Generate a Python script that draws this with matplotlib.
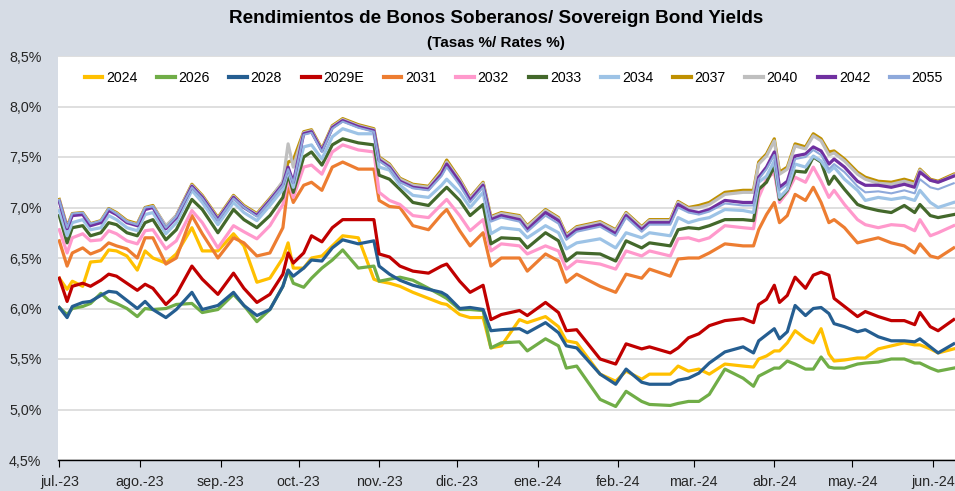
import pandas as pd
import matplotlib
matplotlib.use("Agg")
import matplotlib.pyplot as plt
from matplotlib.ticker import FuncFormatter

dates = [
    "2023-07-01", "2023-07-04", "2023-07-06", "2023-07-10", "2023-07-13", "2023-07-17", "2023-07-20",
    "2023-07-23", "2023-07-27", "2023-07-31", "2023-08-03", "2023-08-06", "2023-08-11", "2023-08-15",
    "2023-08-21", "2023-08-25", "2023-08-31", "2023-09-06", "2023-09-10", "2023-09-15", "2023-09-20",
    "2023-09-25", "2023-09-27", "2023-09-29", "2023-10-03", "2023-10-06", "2023-10-10", "2023-10-14",
    "2023-10-18", "2023-10-24", "2023-10-30",
    "2023-11-01", "2023-11-05", "2023-11-09", "2023-11-14", "2023-11-20", "2023-11-25", "2023-11-27",
    "2023-12-02", "2023-12-06", "2023-12-11", "2023-12-14", "2023-12-18", "2023-12-25", "2023-12-28",
    "2024-01-04", "2024-01-09", "2024-01-12", "2024-01-16", "2024-01-25", "2024-01-31", "2024-02-04",
    "2024-02-10", "2024-02-13", "2024-02-21", "2024-02-24", "2024-02-28",
    "2024-03-03", "2024-03-07", "2024-03-13", "2024-03-20", "2024-03-24", "2024-03-26", "2024-03-29",
    "2024-04-01", "2024-04-03", "2024-04-06", "2024-04-09", "2024-04-13", "2024-04-16", "2024-04-19",
    "2024-04-22", "2024-04-24", "2024-04-28", "2024-05-03", "2024-05-06", "2024-05-11", "2024-05-16",
    "2024-05-21", "2024-05-25", "2024-05-27", "2024-05-31", "2024-06-03", "2024-06-09",
]

y2024 = [6.30, 6.19, 6.27, 6.22, 6.46, 6.47, 6.58, 6.57, 6.52, 6.38, 6.57, 6.50, 6.45, 6.54, 6.80, 6.57,
         6.57, 6.74, 6.62, 6.26, 6.30, 6.50, 6.65, 6.40, 6.40, 6.50, 6.52, 6.62, 6.72, 6.70, 6.29,
         6.27, 6.25, 6.22, 6.16, 6.10, 6.05, 6.04, 5.94, 5.91, 5.91, 5.61, 5.63, 5.89, 5.86, 5.92, 5.82,
         5.68, 5.66, 5.35, 5.28, 5.38, 5.30, 5.35, 5.35, 5.43, 5.38,
         5.40, 5.35, 5.45, 5.43, 5.42, 5.50, 5.53, 5.58, 5.58, 5.66, 5.78, 5.70, 5.66, 5.80, 5.55, 5.48,
         5.49, 5.51, 5.51, 5.60, 5.63, 5.66, 5.64, 5.64, 5.60, 5.56, 5.60]
y2026 = [6.01, 5.94, 6.00, 6.02, 6.05, 6.15, 6.08, 6.05, 6.00, 5.92, 6.00, 5.99, 6.00, 6.04, 6.05, 5.96,
         5.99, 6.14, 6.03, 5.87, 5.99, 6.22, 6.38, 6.25, 6.21, 6.30, 6.40, 6.48, 6.58, 6.40, 6.42,
         6.27, 6.29, 6.31, 6.28, 6.20, 6.13, 6.10, 5.99, 5.99, 5.98, 5.61, 5.66, 5.67, 5.58, 5.70, 5.63,
         5.41, 5.43, 5.10, 5.03, 5.18, 5.08, 5.05, 5.04, 5.06, 5.08,
         5.08, 5.15, 5.40, 5.31, 5.23, 5.33, 5.37, 5.41, 5.41, 5.48, 5.45, 5.40, 5.40, 5.52, 5.42, 5.41,
         5.41, 5.45, 5.46, 5.47, 5.50, 5.50, 5.46, 5.46, 5.41, 5.38, 5.41]
y2028 = [6.01, 5.91, 6.02, 6.06, 6.07, 6.13, 6.17, 6.16, 6.08, 6.00, 6.07, 5.99, 5.91, 5.99, 6.16, 5.99,
         6.03, 6.16, 6.03, 5.93, 5.99, 6.22, 6.38, 6.32, 6.40, 6.48, 6.47, 6.60, 6.68, 6.64, 6.67,
         6.42, 6.34, 6.28, 6.23, 6.19, 6.16, 6.13, 6.00, 6.01, 5.99, 5.78, 5.79, 5.80, 5.76, 5.86, 5.76,
         5.63, 5.61, 5.35, 5.25, 5.40, 5.27, 5.25, 5.25, 5.29, 5.31,
         5.36, 5.46, 5.57, 5.62, 5.56, 5.68, 5.74, 5.80, 5.70, 5.77, 6.03, 5.93, 6.00, 6.01, 5.95, 5.85,
         5.82, 5.77, 5.79, 5.72, 5.68, 5.68, 5.67, 5.70, 5.62, 5.56, 5.65]
y2029e = [6.30, 6.07, 6.22, 6.25, 6.22, 6.28, 6.34, 6.32, 6.25, 6.18, 6.24, 6.20, 6.04, 6.14, 6.42, 6.29,
          6.14, 6.35, 6.20, 6.06, 6.14, 6.34, 6.55, 6.45, 6.55, 6.72, 6.66, 6.80, 6.88, 6.88, 6.88,
          6.54, 6.51, 6.42, 6.37, 6.35, 6.42, 6.44, 6.27, 6.16, 6.23, 5.89, 5.94, 5.98, 5.93, 6.06, 5.96,
          5.78, 5.79, 5.50, 5.45, 5.65, 5.60, 5.62, 5.56, 5.61, 5.71,
          5.75, 5.83, 5.88, 5.90, 5.86, 6.04, 6.09, 6.23, 6.06, 6.13, 6.31, 6.20, 6.33, 6.36, 6.33, 6.10,
          6.02, 5.92, 5.97, 5.92, 5.88, 5.88, 5.84, 5.96, 5.82, 5.78, 5.89]
y2031 = [6.67, 6.42, 6.55, 6.60, 6.54, 6.58, 6.65, 6.62, 6.59, 6.50, 6.70, 6.70, 6.44, 6.50, 6.92, 6.74,
         6.50, 6.70, 6.65, 6.52, 6.55, 6.80, 7.22, 7.05, 7.22, 7.25, 7.17, 7.40, 7.45, 7.38, 7.38,
         7.07, 7.01, 7.00, 6.82, 6.78, 6.93, 6.98, 6.77, 6.62, 6.75, 6.42, 6.50, 6.50, 6.37, 6.54, 6.47,
         6.26, 6.34, 6.22, 6.16, 6.34, 6.30, 6.39, 6.32, 6.49, 6.50,
         6.50, 6.55, 6.64, 6.62, 6.62, 6.78, 6.93, 7.05, 6.85, 6.92, 7.13, 7.07, 7.20, 7.05, 6.85, 6.88,
         6.80, 6.65, 6.67, 6.70, 6.65, 6.62, 6.55, 6.64, 6.52, 6.50, 6.60]
y2032 = [6.78, 6.55, 6.70, 6.74, 6.67, 6.68, 6.77, 6.74, 6.67, 6.64, 6.77, 6.78, 6.59, 6.67, 6.97, 6.85,
         6.60, 6.82, 6.76, 6.69, 6.82, 7.03, 7.28, 7.10, 7.40, 7.42, 7.33, 7.55, 7.62, 7.57, 7.55,
         7.15, 7.07, 7.03, 6.92, 6.90, 7.03, 7.08, 6.92, 6.77, 6.88, 6.57, 6.64, 6.62, 6.54, 6.62, 6.57,
         6.39, 6.47, 6.44, 6.39, 6.57, 6.52, 6.57, 6.52, 6.69, 6.70,
         6.67, 6.70, 6.82, 6.80, 6.79, 7.10, 7.28, 7.35, 7.05, 7.15, 7.30, 7.25, 7.40, 7.26, 7.10, 7.17,
         7.03, 6.88, 6.83, 6.80, 6.83, 6.82, 6.77, 6.88, 6.72, 6.75, 6.82]
y2033 = [6.92, 6.65, 6.80, 6.82, 6.72, 6.75, 6.85, 6.83, 6.75, 6.72, 6.85, 6.88, 6.68, 6.78, 7.08, 6.98,
         6.75, 6.98, 6.88, 6.80, 6.92, 7.10, 7.33, 7.15, 7.50, 7.55, 7.42, 7.62, 7.68, 7.64, 7.62,
         7.32, 7.28, 7.18, 7.05, 7.02, 7.15, 7.20, 7.07, 6.92, 7.03, 6.64, 6.70, 6.69, 6.60, 6.75, 6.67,
         6.47, 6.55, 6.54, 6.47, 6.67, 6.60, 6.65, 6.62, 6.78, 6.80,
         6.79, 6.82, 6.88, 6.88, 6.87, 7.18, 7.25, 7.41, 7.08, 7.17, 7.36, 7.35, 7.50, 7.45, 7.23, 7.31,
         7.18, 7.03, 7.00, 6.97, 6.95, 7.02, 6.95, 7.03, 6.92, 6.90, 6.93]
y2034 = [6.97, 6.72, 6.85, 6.88, 6.78, 6.80, 6.92, 6.88, 6.80, 6.77, 6.93, 6.95, 6.74, 6.85, 7.17, 7.05,
         6.83, 7.05, 6.95, 6.87, 7.02, 7.18, 7.37, 7.20, 7.60, 7.62, 7.48, 7.70, 7.78, 7.73, 7.73,
         7.40, 7.37, 7.22, 7.12, 7.10, 7.22, 7.28, 7.15, 7.00, 7.15, 6.74, 6.80, 6.78, 6.70, 6.82, 6.75,
         6.59, 6.65, 6.69, 6.60, 6.75, 6.70, 6.75, 6.72, 6.90, 6.85,
         6.88, 6.90, 6.98, 6.97, 6.95, 7.25, 7.31, 7.46, 7.10, 7.18, 7.43, 7.40, 7.51, 7.46, 7.35, 7.40,
         7.28, 7.17, 7.07, 7.10, 7.08, 7.10, 7.07, 7.17, 7.05, 7.00, 7.05]
y2037 = [7.08, 6.81, 6.94, 6.95, 6.84, 6.87, 6.99, 6.95, 6.87, 6.84, 7.00, 7.02, 6.81, 6.92, 7.23, 7.12,
         6.90, 7.12, 7.02, 6.94, 7.09, 7.25, 7.45, 7.47, 7.75, 7.77, 7.58, 7.81, 7.88, 7.82, 7.78,
         7.50, 7.43, 7.29, 7.23, 7.21, 7.37, 7.47, 7.28, 7.10, 7.25, 6.91, 6.95, 6.92, 6.82, 6.98, 6.90,
         6.73, 6.81, 6.86, 6.78, 6.95, 6.81, 6.88, 6.88, 7.06, 7.00,
         7.02, 7.05, 7.15, 7.17, 7.17, 7.45, 7.53, 7.68, 7.35, 7.40, 7.63, 7.60, 7.73, 7.68, 7.55, 7.56,
         7.48, 7.35, 7.30, 7.26, 7.25, 7.28, 7.25, 7.38, 7.28, 7.26, 7.33]
y2040 = [7.07, 6.80, 6.93, 6.94, 6.83, 6.86, 6.98, 6.94, 6.86, 6.83, 6.99, 7.01, 6.82, 6.92, 7.22, 7.11,
         6.89, 7.11, 7.01, 6.93, 7.08, 7.26, 7.63, 7.40, 7.74, 7.76, 7.57, 7.80, 7.87, 7.81, 7.77,
         7.49, 7.42, 7.28, 7.22, 7.20, 7.35, 7.45, 7.27, 7.09, 7.24, 6.90, 6.94, 6.91, 6.81, 6.97, 6.89,
         6.72, 6.80, 6.85, 6.77, 6.94, 6.80, 6.87, 6.87, 7.05, 6.99,
         7.00, 7.03, 7.13, 7.15, 7.15, 7.43, 7.51, 7.66, 7.33, 7.38, 7.61, 7.58, 7.71, 7.66, 7.52, 7.54,
         7.46, 7.33, 7.28, 7.24, 7.23, 7.26, 7.23, 7.37, 7.27, 7.25, 7.32]
y2042 = [7.06, 6.79, 6.92, 6.93, 6.82, 6.85, 6.97, 6.93, 6.85, 6.82, 6.98, 7.00, 6.79, 6.90, 7.21, 7.10,
         6.88, 7.10, 7.00, 6.92, 7.07, 7.23, 7.40, 7.25, 7.73, 7.75, 7.56, 7.79, 7.86, 7.80, 7.76,
         7.47, 7.40, 7.26, 7.20, 7.18, 7.33, 7.43, 7.25, 7.07, 7.22, 6.88, 6.92, 6.88, 6.78, 6.95, 6.87,
         6.70, 6.78, 6.83, 6.74, 6.92, 6.78, 6.85, 6.85, 7.03, 6.97,
         6.95, 6.98, 7.07, 7.05, 7.05, 7.30, 7.40, 7.55, 7.20, 7.26, 7.51, 7.53, 7.60, 7.56, 7.43, 7.48,
         7.40, 7.26, 7.22, 7.22, 7.20, 7.23, 7.20, 7.35, 7.27, 7.25, 7.31]
y2055 = [7.07, 6.80, 6.94, 6.95, 6.84, 6.87, 6.99, 6.94, 6.86, 6.83, 7.00, 7.01, 6.80, 6.91, 7.20, 7.09,
         6.87, 7.09, 7.00, 6.91, 7.06, 7.22, 7.38, 7.24, 7.72, 7.74, 7.55, 7.78, 7.85, 7.79, 7.75,
         7.46, 7.39, 7.25, 7.19, 7.17, 7.31, 7.40, 7.22, 7.05, 7.20, 6.86, 6.90, 6.86, 6.76, 6.92, 6.84,
         6.68, 6.76, 6.81, 6.72, 6.90, 6.76, 6.83, 6.83, 7.00, 6.95,
         6.93, 6.96, 7.04, 7.02, 7.02, 7.28, 7.38, 7.52, 7.17, 7.23, 7.48, 7.50, 7.57, 7.52, 7.38, 7.43,
         7.35, 7.21, 7.15, 7.16, 7.14, 7.17, 7.14, 7.28, 7.20, 7.18, 7.24]

labels = ["2024", "2026", "2028", "2029E", "2031", "2032", "2033", "2034", "2037", "2040", "2042", "2055"]
colors = ["#FFC000", "#70AD47", "#255E91", "#C00000", "#ED7D31", "#FF99CC",
          "#43682B", "#9DC3E6", "#BF9000", "#BFBFBF", "#7030A0", "#8EA9DB"]
values = [y2024, y2026, y2028, y2029e, y2031, y2032, y2033, y2034, y2037, y2040, y2042, y2055]

month_ticks = pd.date_range("2023-07-01", "2024-06-01", freq="MS")
month_labels = ["jul.-23", "ago.-23", "sep.-23", "oct.-23", "nov.-23", "dic.-23",
                "ene.-24", "feb.-24", "mar.-24", "abr.-24", "may.-24", "jun.-24"]

plt.rcParams["font.family"] = ["Liberation Sans", "DejaVu Sans"]

x = pd.to_datetime(dates)

fig = plt.figure(figsize=(9.55, 4.91), dpi=100, facecolor="#D6DCE5")
ax = fig.add_axes([58 / 955, 31 / 491, 897 / 955, 404 / 491])
ax.set_facecolor("white")

for lab, col, vals in zip(labels, colors, values):
    lw = 1.5 if lab == "2055" else 2.3
    ax.plot(x, vals, color=col, lw=lw, label=lab, solid_joinstyle="round")

ax.set_xlim(pd.Timestamp("2023-06-30 12:00"), pd.Timestamp("2024-06-09 12:00"))
ax.set_ylim(4.5, 8.5)
ax.set_yticks([4.5, 5.0, 5.5, 6.0, 6.5, 7.0, 7.5, 8.0, 8.5])
ax.yaxis.set_major_formatter(FuncFormatter(lambda v, p: f"{v:.1f}%".replace(".", ",")))
ax.set_xticks(month_ticks)
ax.set_xticklabels(month_labels)

ax.yaxis.grid(True, color="#D9D9D9", lw=1.2)
ax.set_axisbelow(True)
for s in ["left", "right", "top"]:
    ax.spines[s].set_visible(False)
ax.spines["bottom"].set_color("black")
ax.spines["bottom"].set_linewidth(1.0)
ax.tick_params(axis="y", length=0, pad=12, labelsize=10.3, colors="#262626")
ax.tick_params(axis="x", direction="out", length=5, width=0.8, pad=6, labelsize=10.3, colors="#262626")
ax.tick_params(axis="x", color="black")

leg = ax.legend(loc="upper center", bbox_to_anchor=(0.508, 0.995), ncol=12, frameon=False,
                fontsize=10.2, handlelength=1.25, handletextpad=0.25, columnspacing=1.4)
for h in leg.get_lines():
    h.set_linewidth(3.0)

fig.text(0.52, 0.963, "Rendimientos de Bonos Soberanos/ Sovereign Bond Yields",
         ha="center", va="center", fontsize=13.6, fontweight="bold", color="black")
fig.text(0.519, 0.912, "(Tasas %/ Rates %)", ha="center", va="center",
         fontsize=11, fontweight="bold", color="black")

fig.savefig("out.png", dpi=100, facecolor=fig.get_facecolor())
